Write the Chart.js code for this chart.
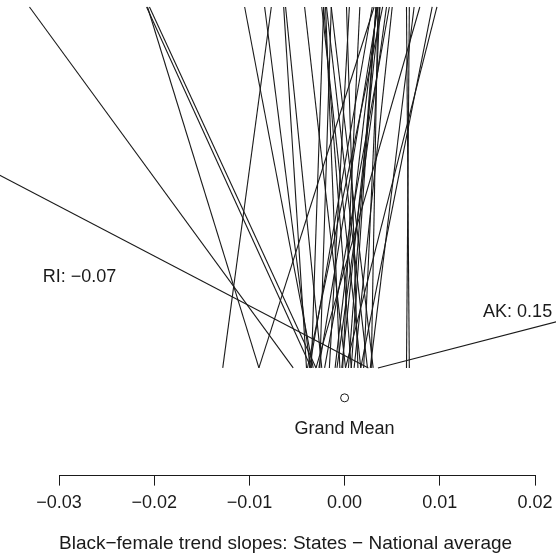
<!DOCTYPE html>
<html>
<head>
<meta charset="utf-8">
<script src="https://cdn.jsdelivr.net/npm/chart.js@4/dist/chart.umd.min.js"></script>
<style>
  html, body { margin: 0; padding: 0; background: #ffffff; }
  #wrap { width: 556px; height: 560px; position: relative; }
</style>
</head>
<body>
<div id="wrap"><canvas id="c" width="556" height="560"></canvas></div>
<script>
// Raw (unpooled) state trend slopes minus national average: top end of each segment
const rawSlopes = [
  -0.0331, -0.0207, -0.0208, -0.0205, -0.0077, -0.0105, -0.0084, -0.0064,
  -0.0700, 0.1500, 0.0031, -0.0062, -0.0042, -0.0024, -0.0022, -0.0020,
  -0.0019, -0.0014, 0.0002, 0.0005, 0.0016, 0.0029, 0.0033, 0.0034,
  0.0035, 0.0037, 0.0040, 0.0044, 0.0047, 0.0050, 0.0065, 0.0068,
  0.0073, 0.0079, 0.0092, 0.0097, -0.0022, 0.0035, -0.0014, 0.0033, 0.0037
];
// Partially pooled (shrunk) estimates: bottom end of each segment
const shrunkSlopes = [
  -0.0054, -0.0090, -0.0035, -0.0030, -0.0128, -0.0033, -0.0036, -0.0040,
  0.0025, 0.0035, -0.0090, -0.0024, 0.0001, 0.0017, 0.0007, -0.0005,
  0.0024, 0.0030, 0.0014, -0.0016, -0.0002, -0.0037, 0.0004, -0.0010,
  -0.0027, 0.0020, -0.0039, -0.0008, -0.0021, 0.0010, 0.0068, 0.0065,
  0.0027, -0.0030, 0.0017, 0.0001, -0.0035, 0.0028, -0.0026, 0.0007, -0.0003
];
const grandMean = [0.0];
const labelledStates = ["RI", "AK"];
const labelledValues = [-0.07, 0.15];
const xTicks = [-0.03, -0.02, -0.01, 0.00, 0.01, 0.02];

// Level for each end of the segments (bottom = shrunk, top = raw)
const LEVEL_SHRUNK = 0, LEVEL_RAW = 1;
const Y_MIN = -108 / 362, Y_MAX = 1 + 7 / 362;
const MEAN_LEVEL = -30 / 362, MEAN_TEXT_LEVEL = -61 / 362;

const FONT = '"Liberation Sans", Arial, Helvetica, sans-serif';
const INK = '#1a1a1a';

const datasets = rawSlopes.map((r, i) => ({
  type: 'scatter',
  data: [{x: shrunkSlopes[i], y: LEVEL_SHRUNK}, {x: r, y: LEVEL_RAW}],
  showLine: true,
  borderColor: INK,
  borderWidth: 1.1,
  pointRadius: 0,
  clip: false
}));
datasets.push({
  type: 'scatter',
  data: grandMean.map(g => ({x: g, y: MEAN_LEVEL})),
  pointRadius: 4,
  pointStyle: 'circle',
  borderColor: INK,
  backgroundColor: '#ffffff',
  borderWidth: 1,
  clip: false
});

const fmt = v => (v < 0 ? '\u2212' : '') + Math.abs(v).toFixed(2);

const textPlugin = {
  id: 'texts',
  afterDatasetsDraw(chart) {
    const ctx = chart.ctx, xs = chart.scales.x, ys = chart.scales.y;
    ctx.save();
    ctx.fillStyle = INK;
    ctx.font = '18px ' + FONT;
    ctx.textBaseline = 'middle';
    ctx.textAlign = 'center';
    ctx.fillText('Grand Mean', xs.getPixelForValue(grandMean[0]), ys.getPixelForValue(MEAN_TEXT_LEVEL));
    ctx.textAlign = 'left';
    ctx.fillText(labelledStates[0] + ': ' + fmt(labelledValues[0]), xs.getPixelForValue(-0.0317), ys.getPixelForValue(0.2514));
    ctx.textAlign = 'right';
    ctx.fillText(labelledStates[1] + ': ' + fmt(labelledValues[1]), xs.getPixelForValue(0.0218), ys.getPixelForValue(0.1547));
    ctx.restore();
  }
};

new Chart(document.getElementById('c'), {
  type: 'scatter',
  data: { datasets },
  options: {
    responsive: false,
    animation: false,
    layout: { autoPadding: false, padding: { left: 59, right: 21, top: 0, bottom: 5 } },
    plugins: { legend: { display: false }, tooltip: { enabled: false } },
    scales: {
      x: {
        type: 'linear',
        min: xTicks[0],
        max: xTicks[xTicks.length - 1],
        afterBuildTicks: axis => { axis.ticks = xTicks.map(v => ({value: v})); },
        afterFit: axis => { axis.paddingLeft = 0; axis.paddingRight = 0; },
        border: { display: true, color: INK, width: 1 },
        grid: { display: true, drawOnChartArea: false, drawTicks: true, tickLength: 10, color: INK, lineWidth: 1 },
        ticks: {
          color: INK, padding: 7, maxRotation: 0, autoSkip: false,
          font: { family: FONT, size: 18, lineHeight: 1.2 },
          callback: v => fmt(v)
        },
        title: {
          display: true,
          align: 'start',
          text: 'Black\u2212female trend slopes: States \u2212 National average',
          color: INK,
          font: { family: FONT, size: 19, lineHeight: 1.2 },
          padding: { top: 11, bottom: 0 }
        }
      },
      y: { type: 'linear', display: false, min: Y_MIN, max: Y_MAX }
    }
  },
  plugins: [textPlugin]
});
</script>
</body>
</html>
